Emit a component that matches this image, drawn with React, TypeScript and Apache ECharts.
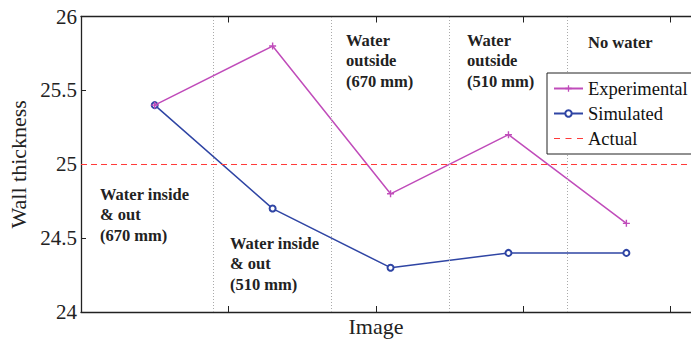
import React, { useEffect, useRef } from "react";
import * as echarts from "echarts";

const images = [1, 2, 3, 4, 5];
const experimental = [25.4, 25.8, 24.8, 25.2, 24.6];
const simulated = [25.4, 24.7, 24.3, 24.4, 24.4];
const actual = 25;
const separators = [1.5, 2.5, 3.5, 4.5];
const yTicks = { min: 24, max: 26, interval: 0.5 };
const annotations = [
  { text: "Water inside\n& out\n(670 mm)", x: 100, y: 184 },
  { text: "Water inside\n& out\n(510 mm)", x: 230, y: 233 },
  { text: "Water\noutside\n(670 mm)", x: 346, y: 30 },
  { text: "Water\noutside\n(510 mm)", x: 467, y: 30 },
  { text: "No water", x: 588, y: 32 },
];

const FONT = "Liberation Serif";
const MAGENTA = "#C04CBA";
const BLUE = "#2F45A4";
const RED = "#FF3A3A";
const AXIS = "#222";

const PLUS = "path://M4,0h2v4h4v2h-4v4h-2v-4h-4v-2h4z";
const DASH_ICON =
  "path://M0,3.4h6v1.2h-6z M11.5,3.4h6v1.2h-6z M23,3.4h6v1.2h-6z M0,0h0.01v0.01h-0.01z M28.99,7.99h0.01v0.01h-0.01z";

export default function App() {
  const ref = useRef<HTMLDivElement>(null);
  useEffect(() => {
    document.body.style.margin = "0";
    if (!ref.current) return;
    const chart = echarts.init(ref.current, undefined, { renderer: "svg" });
    const tickAxis = (position: "bottom" | "top") => ({
      type: "value",
      gridIndex: 0,
      position,
      min: 0,
      max: 5,
      interval: 1,
      axisLine: { show: true, lineStyle: { color: AXIS, width: 1.3 } },
      axisTick: { show: true, inside: true, length: 6, lineStyle: { color: AXIS, width: 1 } },
      axisLabel: { show: false },
      splitLine: { show: false },
    });
    chart.setOption({
      animation: false,
      grid: { left: 81, top: 16.5, bottom: 29, width: 737, outerBoundsMode: "none", containLabel: false },
      xAxis: [
        {
          type: "value",
          min: 0.375,
          max: 6.625,
          show: false,
          splitLine: { show: false },
        },
        tickAxis("bottom"),
        tickAxis("top"),
      ],
      yAxis: {
        type: "value",
        min: yTicks.min,
        max: yTicks.max,
        interval: yTicks.interval,
        name: "Wall thickness",
        nameLocation: "middle",
        nameRotate: 90,
        nameGap: 46,
        nameTextStyle: { fontFamily: FONT, fontSize: 22, color: "#222" },
        axisLine: { show: true, lineStyle: { color: AXIS, width: 1.3 } },
        axisTick: { show: true, inside: true, length: 5, lineStyle: { color: AXIS } },
        axisLabel: { fontFamily: FONT, fontSize: 21, color: "#222", margin: 4 },
        splitLine: { show: false },
      },
      legend: {
        data: ["Experimental", "Simulated", { name: "Actual", icon: DASH_ICON }],
        orient: "vertical",
        left: 547,
        top: 73,
        padding: [6, 8, 6, 6],
        borderColor: "#222",
        borderWidth: 1,
        borderRadius: 0,
        backgroundColor: "#fff",
        itemWidth: 29,
        itemHeight: 8,
        itemGap: 6,
        textStyle: { fontFamily: FONT, fontSize: 18.5, color: "#111" },
        z: 10,
      },
      graphic: [
        ...annotations.map((a) => ({
          type: "text",
          x: a.x,
          y: a.y,
          z: 5,
          style: {
            text: a.text,
            fontFamily: FONT,
            fontSize: 16.5,
            fontWeight: "bold",
            lineHeight: 20.5,
            fill: "#222",
            textVerticalAlign: "top",
          },
        })),
        {
          type: "text",
          x: 376,
          y: 326,
          style: {
            text: "Image",
            fontFamily: FONT,
            fontSize: 22,
            fill: "#222",
            textAlign: "center",
            textVerticalAlign: "middle",
          },
        },
      ],
      series: [
        {
          name: "Experimental",
          type: "line",
          xAxisIndex: 0,
          data: images.map((x, i) => [x, experimental[i]]),
          symbol: PLUS,
          symbolSize: 7,
          showAllSymbol: true,
          color: MAGENTA,
          lineStyle: { color: MAGENTA, width: 1.5 },
          itemStyle: { color: MAGENTA },
          z: 3,
        },
        {
          name: "Simulated",
          type: "line",
          xAxisIndex: 0,
          data: images.map((x, i) => [x, simulated[i]]),
          symbol: "emptyCircle",
          symbolSize: 6,
          color: BLUE,
          lineStyle: { color: BLUE, width: 1.5 },
          itemStyle: { color: BLUE, borderColor: BLUE, borderWidth: 1.5 },
          z: 2,
          markLine: {
            silent: true,
            symbol: ["none", "none"],
            label: { show: false },
            lineStyle: { color: "#aaa", type: [1, 2], width: 1 },
            data: separators.map((s) => ({ xAxis: s })),
          },
        },
        {
          name: "Actual",
          type: "line",
          xAxisIndex: 0,
          data: [],
          symbol: "none",
          color: RED,
          itemStyle: { color: RED },
          lineStyle: { color: RED, width: 1, type: [6, 4] },
          markLine: {
            silent: true,
            symbol: ["none", "none"],
            label: { show: false },
            lineStyle: { color: RED, type: [6, 4], width: 1 },
            data: [{ yAxis: actual }],
          },
        },
      ],
    });
    return () => chart.dispose();
  }, []);
  return <div ref={ref} style={{ width: 691, height: 341 }} />;
}
